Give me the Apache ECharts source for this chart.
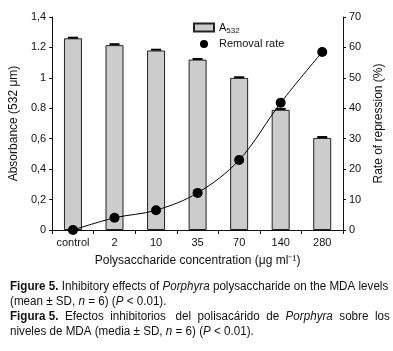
<!DOCTYPE html>
<html>
<head>
<meta charset="utf-8">
<script src="https://cdn.jsdelivr.net/npm/echarts@6/dist/echarts.min.js"></script>
<style>
html,body{margin:0;padding:0;background:#fff;}
#main{width:393px;height:351px;}
</style>
</head>
<body>
<div id="main"></div>
<script>
var categories = ['control', '2', '10', '35', '70', '140', '280'];//浓度
var absorbance_data = [1.26, 1.215, 1.18, 1.12, 1.0, 0.79, 0.605];//A532
var absorbance_sd = [0.004, 0.006, 0.005, 0.004, 0.004, 0.006, 0.006];
var removal_rate_data = [0, 4, 6.5, 12.2, 23, 41.8, 58.5];//Removal rate
var left_tick_labels = ['0', '0,2', '0,4', '0,6', '0.8', '1', '1.2', '1,4'];

var font = "'Liberation Sans', Arial, sans-serif";
var chart = echarts.init(document.getElementById('main'));

function caption(top, text){
    return {
        type: 'text', x: 10, y: top, scaleX: 0.97,
        style: {
            text: text,
            font: '12px ' + font, fill: '#111',
            rich: {b: {fontWeight: 'bold', fontFamily: font, fontSize: 12}, i: {fontStyle: 'italic', fontFamily: font, fontSize: 12}}
        }
    };
}

var option = {
    animation: false,
    textStyle: {fontFamily: font},
    grid: {left: 43, right: 41, top: 17, bottom: 121},
    legend: {
        orient: 'vertical',
        left: 188,
        top: 17,
        itemGap: 4,
        itemWidth: 20,
        itemHeight: 8,
        textStyle: {
            fontFamily: font, fontSize: 11, color: '#111',
            rich: {sub: {fontSize: 8, fontFamily: font, color: '#111', verticalAlign: 'bottom', padding: [6, 0, 0, 0]}}
        },
        formatter: function(name){
            return name === 'A532' ? 'A{sub|532}' : name;
        },
        data: [
            {name: 'A532', icon: 'rect'},
            {name: 'Removal rate', icon: 'circle'}
        ]
    },
    xAxis: {
        type: 'category',
        data: categories,
        boundaryGap: true,
        name: 'Polysaccharide concentration (μg ml⁻¹)',
        nameLocation: 'middle',
        nameGap: 25,
        nameTextStyle: {fontFamily: font, fontSize: 12, color: '#111'},
        axisLine: {lineStyle: {color: '#111', width: 1}},
        axisTick: {show: true, alignWithLabel: false, interval: 0, length: 4, inside: false, lineStyle: {color: '#111'}},
        axisLabel: {color: '#111', fontSize: 11, fontFamily: font, margin: 7, interval: 0}
    },
    yAxis: [
        {
            type: 'value',
            min: 0, max: 1.4, interval: 0.2,
            name: 'Absorbance (532 μm)',
            nameLocation: 'middle',
            nameGap: 29,
            nameRotate: 90,
            nameTextStyle: {fontFamily: font, fontSize: 12, color: '#111'},
            axisLine: {show: true, lineStyle: {color: '#111'}},
            axisTick: {show: true, length: 3, lineStyle: {color: '#111'}},
            splitLine: {show: false},
            axisLabel: {
                color: '#111', fontSize: 11, fontFamily: font, margin: 6,
                formatter: function(v){ return left_tick_labels[Math.round(v / 0.2)]; }
            }
        },
        {
            type: 'value',
            min: 0, max: 70, interval: 10,
            name: 'Rate of repression (%)',
            nameLocation: 'middle',
            nameGap: 30,
            nameRotate: 90,
            nameTextStyle: {fontFamily: font, fontSize: 12, color: '#111'},
            axisLine: {show: true, lineStyle: {color: '#111'}},
            axisTick: {show: true, length: 3, lineStyle: {color: '#111'}},
            splitLine: {show: false},
            axisLabel: {color: '#111', fontSize: 11, fontFamily: font, margin: 6}
        }
    ],
    series: [
        {
            name: 'A532',
            type: 'bar',
            barWidth: 18,
            data: absorbance_data,
            itemStyle: {color: '#cccccc', borderColor: '#222', borderWidth: 1}
        },
        {
            name: 'sd',
            type: 'custom',
            data: absorbance_data.map(function(v, i){ return [i, v, absorbance_sd[i]]; }),
            z: 5,
            renderItem: function(params, api){
                var x = api.value(0);
                var top = api.coord([x, api.value(1) + api.value(2)]);
                return {
                    type: 'line',
                    shape: {x1: top[0] - 5, y1: top[1], x2: top[0] + 5, y2: top[1]},
                    style: {stroke: '#000', lineWidth: 2}
                };
            }
        },
        {
            name: 'Removal rate',
            type: 'line',
            yAxisIndex: 1,
            smooth: 0.35,
            symbol: 'circle',
            symbolSize: 10,
            z: 10,
            data: removal_rate_data,
            lineStyle: {color: '#000', width: 1},
            itemStyle: {color: '#000'}
        }
    ],
    graphic: [
        caption(281, '{b|Figure 5.} Inhibitory effects of {i|Porphyra} polysaccharide on the MDA levels'),
        caption(296, '(mean ± SD, {i|n} = 6) ({i|P} < 0.01).'),
        caption(311, '{b|Figura 5.}  Efectos  inhibitorios   del  polisacárido  de  {i|Porphyra}  sobre  los'),
        caption(326, 'niveles de MDA (media ± SD, {i|n} = 6) ({i|P} < 0.01).')
    ]
};
chart.setOption(option);
</script>
</body>
</html>
